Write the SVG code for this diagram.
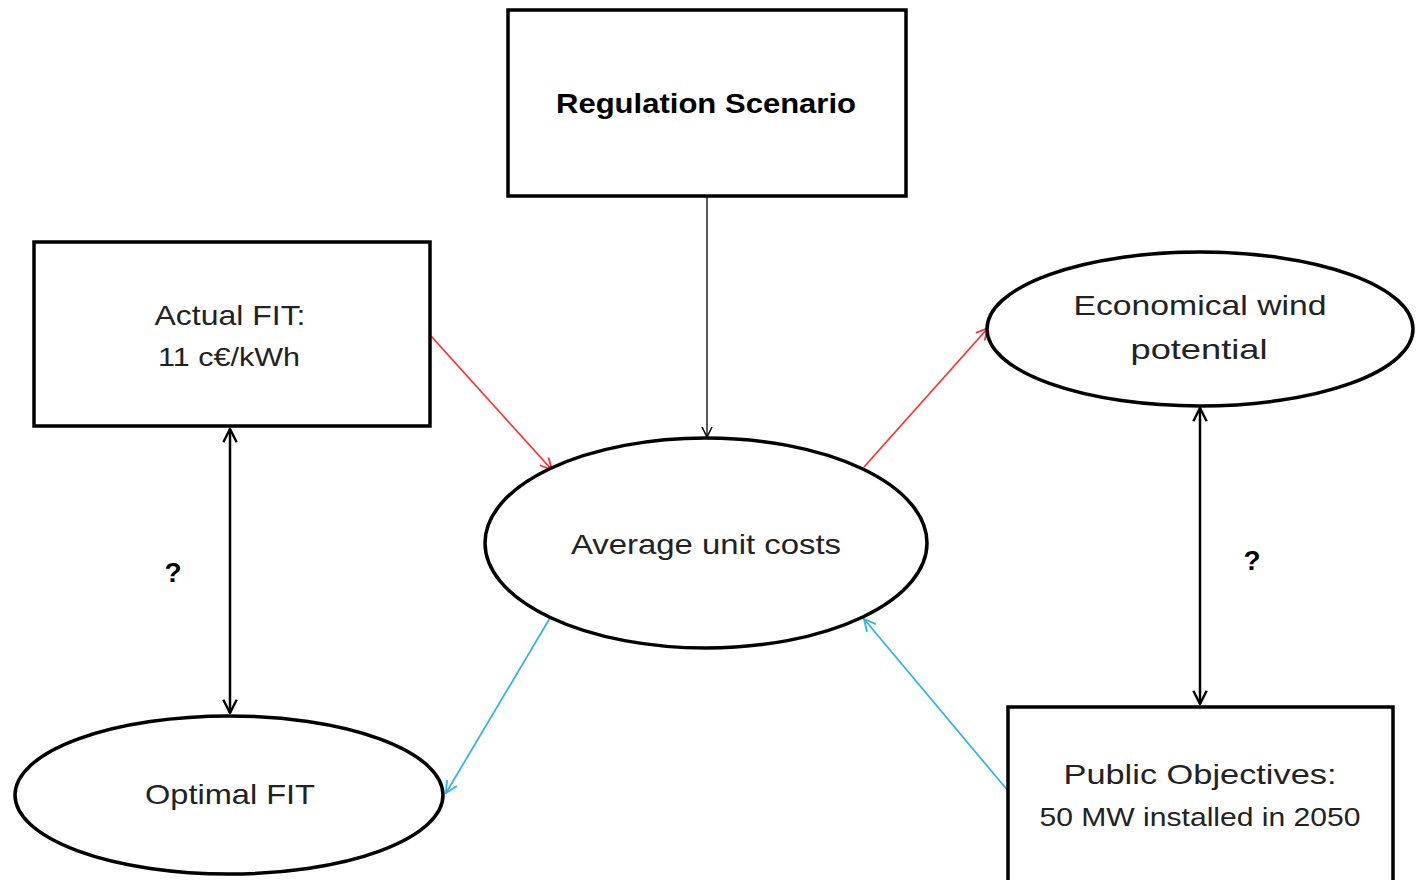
<svg xmlns="http://www.w3.org/2000/svg" width="1416" height="880" viewBox="0 0 1416 880">
<style>
.box{fill:#fff;stroke:#000;stroke-width:3.5}
.t{font-family:"Liberation Sans",Arial,sans-serif;font-size:28px;fill:#222;text-anchor:middle}
.s{font-size:26px}
.b{font-weight:bold;fill:#000}
.thin{stroke:#000;stroke-width:1.3;fill:none}
.red{stroke:#ff3333;stroke-width:1.8;fill:none}
.blue{stroke:#33b5e5;stroke-width:1.8;fill:none}
.dbl{stroke:#000;stroke-width:2.5;fill:none}
</style>
<defs>
<marker id="aBlack" viewBox="0 0 12 12" refX="11" refY="6" markerWidth="12" markerHeight="12" markerUnits="userSpaceOnUse" orient="auto-start-reverse"><path d="M1,1 L11,6 L1,11" fill="none" stroke="#000" stroke-width="1.5"/></marker>
<marker id="aBold" viewBox="0 0 12 12" refX="11" refY="6" markerWidth="16" markerHeight="16" markerUnits="userSpaceOnUse" orient="auto-start-reverse"><path d="M1,1 L11,6 L1,11" fill="none" stroke="#000" stroke-width="1.8"/></marker>
<marker id="aRed" viewBox="0 0 12 12" refX="11" refY="6" markerWidth="14" markerHeight="14" markerUnits="userSpaceOnUse" orient="auto"><path d="M1,1 L11,6 L1,11" fill="none" stroke="#ff3333" stroke-width="1.6"/></marker>
<marker id="aBlue" viewBox="0 0 12 12" refX="11" refY="6" markerWidth="14" markerHeight="14" markerUnits="userSpaceOnUse" orient="auto"><path d="M1,1 L11,6 L1,11" fill="none" stroke="#33b5e5" stroke-width="1.6"/></marker>
</defs>
<rect width="1416" height="880" fill="#fff"/>
<g id="connectors">
<line class="thin" x1="707" y1="197" x2="707" y2="437" marker-end="url(#aBlack)"/>
<line class="red" x1="431" y1="336" x2="552" y2="470" marker-end="url(#aRed)"/>
<line class="red" x1="864" y1="467" x2="988" y2="328" marker-end="url(#aRed)"/>
<line class="blue" x1="550" y1="618" x2="446" y2="793" marker-end="url(#aBlue)"/>
<line class="blue" x1="1009" y1="792" x2="864" y2="619" marker-end="url(#aBlue)"/>
<line class="dbl" x1="230" y1="429" x2="230" y2="713" marker-start="url(#aBold)" marker-end="url(#aBold)"/>
<line class="dbl" x1="1200" y1="408" x2="1200" y2="704" marker-start="url(#aBold)" marker-end="url(#aBold)"/>
<text class="t b" x="173" y="582">?</text>
<text class="t b" x="1252" y="570">?</text>
</g>
<g id="regulation">
<rect class="box" x="508" y="10" width="398" height="186"/>
<text class="t b" x="706" y="113" font-size="27" textLength="300" lengthAdjust="spacingAndGlyphs">Regulation Scenario</text>
</g>
<g id="actualFit">
<rect class="box" x="34" y="242" width="396" height="184"/>
<text class="t" x="230" y="325" textLength="151" lengthAdjust="spacingAndGlyphs">Actual FIT:</text>
<text class="t s" x="229" y="366" textLength="142" lengthAdjust="spacingAndGlyphs">11 c€/kWh</text>
</g>
<g id="economical">
<ellipse class="box" cx="1200" cy="329" rx="213" ry="77"/>
<text class="t" x="1200" y="315" textLength="253" lengthAdjust="spacingAndGlyphs">Economical wind</text>
<text class="t" x="1199" y="359" textLength="137" lengthAdjust="spacingAndGlyphs">potential</text>
</g>
<g id="average">
<ellipse class="box" cx="706" cy="543" rx="221" ry="105"/>
<text class="t" x="706" y="554" textLength="270" lengthAdjust="spacingAndGlyphs">Average unit costs</text>
</g>
<g id="optimalFit">
<ellipse class="box" cx="229" cy="795" rx="214" ry="79"/>
<text class="t" x="230" y="804" textLength="170" lengthAdjust="spacingAndGlyphs">Optimal FIT</text>
</g>
<g id="publicObjectives">
<rect class="box" x="1008" y="707" width="385" height="190"/>
<text class="t" x="1200" y="784" textLength="273" lengthAdjust="spacingAndGlyphs">Public  Objectives:</text>
<text class="t s" x="1200" y="826" textLength="321" lengthAdjust="spacingAndGlyphs">50 MW installed in 2050</text>
</g>
</svg>
